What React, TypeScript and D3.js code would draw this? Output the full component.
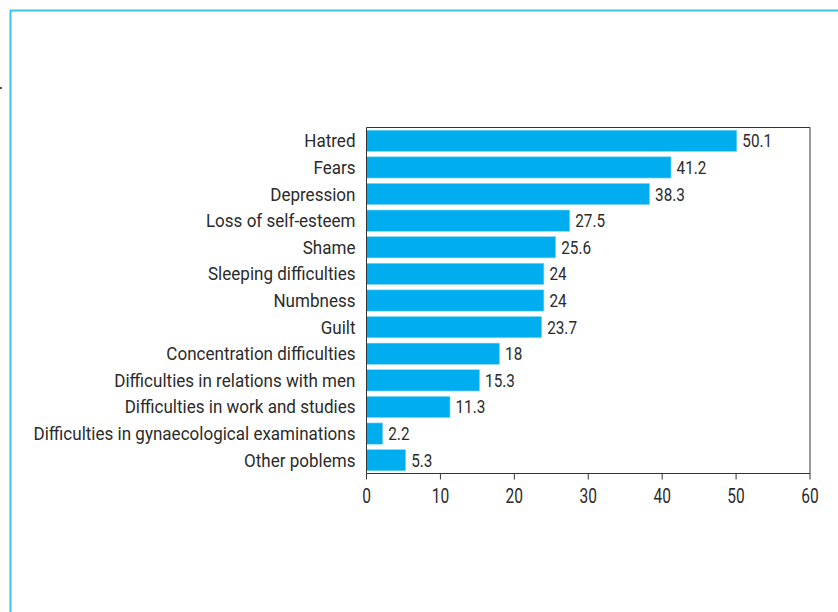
import React from "react";
import * as d3 from "d3";

const categories = [
  "Hatred",
  "Fears",
  "Depression",
  "Loss of self-esteem",
  "Shame",
  "Sleeping difficulties",
  "Numbness",
  "Guilt",
  "Concentration difficulties",
  "Difficulties in relations with men",
  "Difficulties in work and studies",
  "Difficulties in gynaecological examinations",
  "Other poblems",
];
const values = [50.1, 41.2, 38.3, 27.5, 25.6, 24, 24, 23.7, 18, 15.3, 11.3, 2.2, 5.3];
const valueLabels = ["50.1", "41.2", "38.3", "27.5", "25.6", "24", "24", "23.7", "18", "15.3", "11.3", "2.2", "5.3"];
const xTicks = [0, 10, 20, 30, 40, 50, 60];

const W = 838;
const H = 612;
const left = 366.5;
const right = 810;
const top = 127.5;
const bottom = 473.5;
const FONT = "Roboto, sans-serif";
const TEXT = "#2b2b2b";
const BAR = "#00aeef";
const FRAME = "#3cc3f0";

export default function App() {
  const x = d3.scaleLinear().domain([0, 60]).range([left, right]);
  const y = d3.scaleBand<string>().domain(categories).range([top, bottom]).paddingInner(0.2).paddingOuter(0.1);
  return (
    <svg width={W} height={H} style={{ position: "absolute", left: 0, top: 0, background: "#fff" }} fontFamily={FONT}>
      <line x1={10.5} y1={10} x2={10.5} y2={H} stroke={FRAME} strokeWidth={2} />
      <line x1={10} y1={10.5} x2={W} y2={10.5} stroke={FRAME} strokeWidth={2} />
      <rect x={0} y={87} width={2} height={2} fill="#555" />
      {categories.map((c, i) => {
        const cy = y(c)! + y.bandwidth() / 2;
        return (
          <g key={c}>
            <rect x={x(0)} y={y(c)!} width={x(values[i]) - x(0)} height={y.bandwidth()} fill={BAR} stroke="#8fdaf7" strokeWidth={0.6} />
            <g transform={`translate(${left - 11},${cy}) scale(0.947,1)`}>
              <text dy="0.36em" textAnchor="end" fontSize={18} fill={TEXT}>
                {c}
              </text>
            </g>
            <g transform={`translate(${x(values[i]) + 5.5},${cy}) scale(0.85,1)`}>
              <text dy="0.36em" fontSize={18} fill={TEXT}>
                {valueLabels[i]}
              </text>
            </g>
          </g>
        );
      })}
      <path d={`M${left},${top}H${right}V${bottom}H${left}Z`} fill="none" stroke="#333" strokeWidth={1} />
      {xTicks.map((t) => (
        <g key={t}>
          <line x1={x(t)} x2={x(t)} y1={bottom} y2={bottom + 6} stroke="#333" strokeWidth={1} />
          <g transform={`translate(${x(t)},${bottom + 29.5}) scale(0.74,1)`}>
            <text textAnchor="middle" fontSize={21} fill={TEXT}>
              {t}
            </text>
          </g>
        </g>
      ))}
    </svg>
  );
}
